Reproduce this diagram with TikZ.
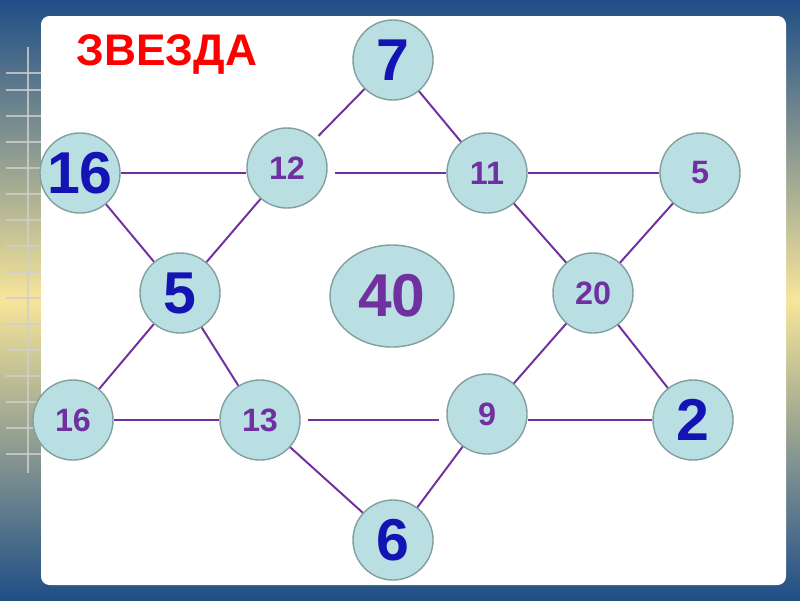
\documentclass[tikz,border=0pt]{standalone}
\usepackage{fontspec}
\setmainfont{Liberation Sans}
\usetikzlibrary{shapes.geometric}

\definecolor{slideblue}{HTML}{1F4E86}
\definecolor{slideyellow}{HTML}{F7E59A}
\definecolor{gridgray}{HTML}{CFCFCF}
\definecolor{ballfill}{HTML}{BADFE3}
\definecolor{balledge}{HTML}{819F9F}
\definecolor{linkpurple}{HTML}{7030A0}
\definecolor{numblue}{HTML}{1414B4}

\tikzset{
  ball/.style={circle, fill=ballfill, draw=balledge, line width=1pt,
    minimum size=2cm, inner sep=0pt},
  bignum/.style={ball, text=numblue, font=\fontsize{42}{42}\selectfont\bfseries},
  smallnum/.style={ball, text=linkpurple, font=\fontsize{23}{23}\selectfont\bfseries},
  link/.style={draw=linkpurple, line width=1.4pt},
  gridline/.style={draw=gridgray, opacity=0.8, line width=1.2pt},
}

\begin{document}
\begin{tikzpicture}[x=0.025cm, y=-0.025cm]
\useasboundingbox (0,0) rectangle (800,600);

% slide background
\shade[top color=slideblue, bottom color=slideblue, middle color=slideyellow]
  (0,0) rectangle (800,600);
\draw[gridline] (28,47) -- (28,473);
\draw[gridline] (6,73) -- (41,73);
\foreach \y in {90,116,...,454}
  \draw[gridline] (6,\y) -- (41,\y);
\fill[white, rounded corners=6pt] (41,16) rectangle (786,585);

\node[text=red, font=\fontsize{31.5}{31.5}\selectfont\bfseries, anchor=base]
  (title) at (167,65) {ЗВЕЗДА};

% the star
\node[bignum]   (n7)   at (393,60)  {7};
\node[bignum]   (n16a) at (80,173)  {16};
\node[smallnum] (n12)  at (287,168) {12};
\node[smallnum] (n11)  at (487,173) {11};
\node[smallnum] (n5a)  at (700,173) {5};
\node[bignum]   (n5b)  at (180,293) {5};
\node[ellipse, fill=ballfill, draw=balledge, line width=1pt,
  minimum width=3.1cm, minimum height=2.55cm, text=linkpurple,
  font=\fontsize{43}{43}\selectfont\bfseries] (n40) at (392,296) {40};
\node[smallnum] (n20)  at (593,293) {20};
\node[smallnum] (n16b) at (73,420)  {16};
\node[smallnum] (n13)  at (260,420) {13};
\node[smallnum] (n9)   at (487,414) {9};
\node[bignum]   (n2)   at (693,420) {2};
\node[bignum]   (n6)   at (393,540) {6};

\draw[link] (n16a) -- (n16a -| n12.west);
\draw[link, shorten <=5pt] (n11 -| n12.east) -- (n11);
\draw[link] (n11) -- (n5a);
\draw[link, shorten >=3pt] (n7) -- (n12);
\draw[link] (n7) -- (n11);
\draw[link] (n16a) -- (n5b);
\draw[link] (n12) -- (n5b);
\draw[link] (n11) -- (n20);
\draw[link] (n5a) -- (n20);
\draw[link] (n5b) -- (n16b);
\draw[link] (n5b) -- (n13);
\draw[link] (n16b) -- (n13);
\draw[link, shorten <=5pt, shorten >=5pt] (n13) -- (n13 -| n9.west);
\draw[link] (n2 -| n9.east) -- (n2);
\draw[link] (n20) -- (n9);
\draw[link] (n20) -- (n2);
\draw[link] (n13) -- (n6);
\draw[link] (n9) -- (n6);

\end{tikzpicture}
\end{document}
